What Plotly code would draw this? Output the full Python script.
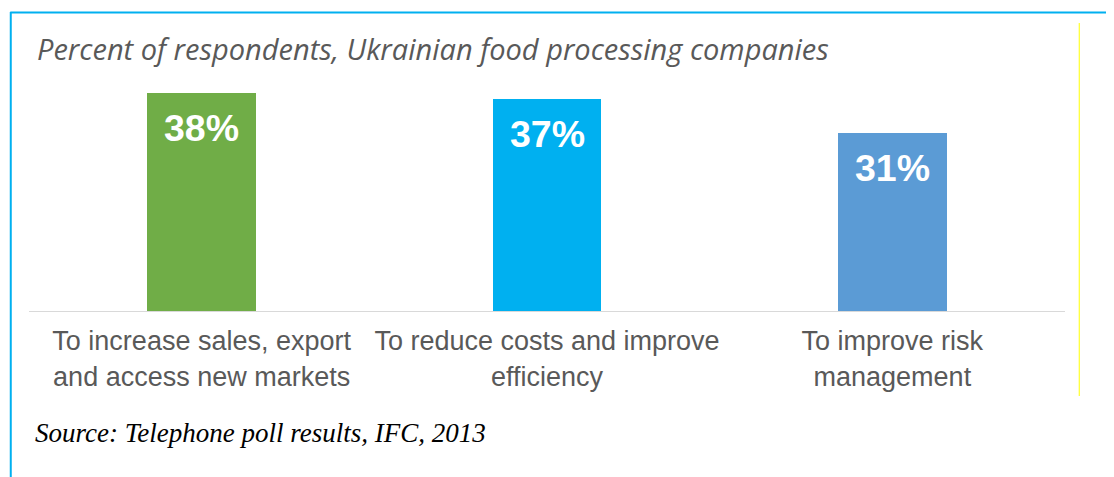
import plotly.graph_objects as go

categories = ["To increase sales, export<br>and access new markets",
              "To reduce costs and improve<br>efficiency",
              "To improve risk<br>management"]
values = [38, 37, 31]
labels = ["38%", "37%", "31%"]
colors = ["#70AD47", "#00B0F0", "#5B9BD5"]
title_text = "Percent of respondents, Ukrainian food processing companies"
source_text = "Source: Telephone poll results, IFC, 2013"

# the page body adds an 8px offset on the left and top
OFF = 8
W, H = 1114 - OFF, 477 - OFF
L, R, T, B = 28.75 - OFF, 48.75, 93 - OFF, 166
PW = W - L - R
PH = H - T - B


def px(x):
    return (x - OFF - L) / PW


def py(y):
    return (H - B - (y - OFF)) / PH


fig = go.Figure()
fig.add_trace(go.Bar(
    x=categories, y=values, marker=dict(color=colors, line=dict(width=0)),
    width=0.3155, hoverinfo="skip"
))

for c, v, t in zip(categories, values, labels):
    fig.add_annotation(x=c, y=v, text=t, showarrow=False, yanchor="middle",
                       yshift=-35,
                       font=dict(family="Liberation Sans, Arial", size=37.5,
                                 color="white", weight="bold"))

fig.add_annotation(xref="paper", yref="paper", x=px(35), y=py(48),
                   xanchor="left", yanchor="middle", text="<i>" + title_text + "</i>",
                   showarrow=False,
                   font=dict(family="Open Sans", size=29, color="#595959"))
fig.add_annotation(xref="paper", yref="paper", x=px(33), y=py(433),
                   xanchor="left", yanchor="middle", text="<i>" + source_text + "</i>",
                   showarrow=False,
                   font=dict(family="Liberation Serif, Times New Roman", size=27,
                             color="black"))

shapes = [
    dict(type="line", xref="paper", yref="paper", x0=px(10), x1=px(1114),
         y0=py(12.5), y1=py(12.5), line=dict(color="#00B0F0", width=2)),
    dict(type="line", xref="paper", yref="paper", x0=px(10.5), x1=px(10.5),
         y0=py(12), y1=py(477), line=dict(color="#00B0F0", width=2)),
    dict(type="line", xref="paper", yref="paper", x0=px(1079.5), x1=px(1079.5),
         y0=py(23), y1=py(396), line=dict(color="#FFFF00", width=1)),
]

fig.update_layout(
    width=W, height=H,
    margin=dict(l=L, r=R, t=T, b=B, pad=0),
    paper_bgcolor="white", plot_bgcolor="white",
    showlegend=False,
    shapes=shapes,
    bargap=0,
    xaxis=dict(showgrid=False, showline=True, linecolor="#D9D9D9", linewidth=1,
               ticks="", ticklabelstandoff=6,
               tickfont=dict(family="Liberation Sans, Arial", size=27,
                             color="#595959"),
               fixedrange=True),
    yaxis=dict(range=[0, 38], showgrid=False, showticklabels=False, zeroline=False,
               showline=False, fixedrange=True),
)

fig.write_html("out.html")
